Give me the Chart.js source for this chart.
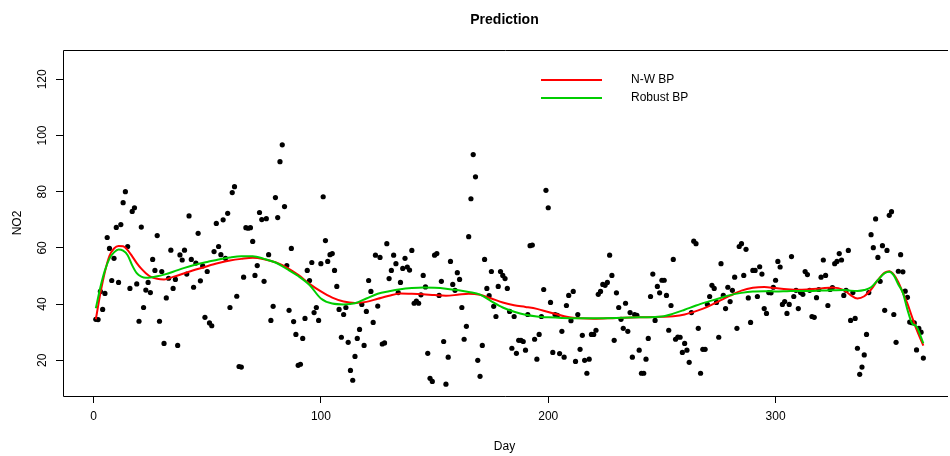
<!DOCTYPE html>
<html>
<head>
<meta charset="utf-8">
<title>Prediction</title>
<script src="https://cdn.jsdelivr.net/npm/chart.js@4.4.1/dist/chart.umd.min.js"></script>
<style>
  html, body { margin: 0; padding: 0; background: #fff; overflow: hidden; }
  #wrap { position: relative; width: 950px; height: 456px; }
</style>
</head>
<body>
<div id="wrap"><canvas id="chart"></canvas></div>
<script>
// daily NO2 readings, day 1 .. 365
const no2 = [
  34.6, 34.5, 44.5, 38.1, 43.8, 63.7, 59.8, 48.4, 56.3, 67.3,
  47.7, 68.3, 76.1, 80.0, 60.5, 45.6, 73.0, 74.3, 47.2, 33.9,
  67.4, 38.8, 45.0, 47.7, 44.1, 55.9, 52.0, 64.4, 33.9, 51.6,
  26.0, 42.2, 49.2, 59.2, 45.6, 48.8, 25.3, 57.5, 55.7, 59.2,
  50.7, 71.4, 55.9, 46.0, 54.6, 65.2, 48.3, 53.6, 35.3, 51.6,
  33.3, 32.3, 58.7, 68.7, 60.5, 57.6, 70.0, 56.3, 72.3, 38.8,
  79.7, 81.8, 42.8, 17.8, 17.6, 49.6, 67.2, 67.0, 67.2, 62.3,
  50.2, 53.7, 72.6, 70.1, 48.1, 70.4, 57.6, 34.2, 39.2, 77.9,
  70.8, 90.7, 96.7, 74.7, 53.7, 37.8, 59.8, 33.8, 29.2, 18.2,
  18.6, 27.8, 34.9, 52.0, 48.4, 54.8, 37.0, 38.8, 34.2, 54.4,
  78.2, 62.6, 55.2, 57.6, 58.0, 52.0, 46.3, 38.1, 28.2, 36.3,
  38.8, 26.4, 16.4, 12.9, 21.4, 27.8, 31.0, 39.9, 25.3, 37.4,
  48.4, 44.5, 33.5, 57.4, 39.3, 56.6, 25.8, 26.2, 61.5, 49.1,
  52.0, 57.4, 54.4, 44.1, 47.7, 52.7, 56.3, 53.2, 52.1, 59.1,
  40.3, 41.1, 40.3, 43.3, 50.2, 46.1, 22.5, 13.6, 12.5, 57.4,
  58.0, 43.1, 48.1, 26.7, 11.5, 21.1, 55.2, 47.0, 44.9, 51.2,
  48.8, 38.8, 27.5, 32.1, 64.0, 77.5, 93.2, 85.3, 20.0, 14.3,
  25.3, 55.9, 45.6, 43.0, 51.6, 39.2, 35.6, 46.3, 51.6, 50.2,
  49.1, 45.6, 37.4, 24.3, 35.6, 22.5, 27.1, 27.1, 26.7, 23.6,
  36.3, 60.8, 61.0, 27.5, 20.4, 29.2, 35.6, 45.2, 80.5, 74.3,
  40.6, 22.8, 36.3, 36.0, 22.4, 30.3, 21.1, 39.5, 43.1, 34.1,
  44.5, 19.6, 36.3, 23.9, 28.9, 20.0, 15.4, 20.4, 29.2, 29.2,
  30.7, 43.5, 44.5, 47.0, 46.7, 47.7, 57.4, 50.2, 27.1, 44.0,
  38.8, 34.6, 31.4, 40.3, 30.3, 37.0, 21.1, 36.3, 36.0, 23.6,
  15.4, 15.4, 20.4, 27.8, 42.7, 50.7, 34.2, 46.3, 44.0, 48.5,
  48.5, 43.1, 30.7, 39.5, 55.9, 27.5, 28.3, 28.2, 22.8, 26.0,
  23.6, 19.3, 37.0, 62.4, 61.5, 31.4, 15.4, 23.9, 23.9, 39.9,
  42.7, 46.7, 45.6, 40.6, 28.2, 54.4, 43.1, 38.4, 46.0, 40.9,
  44.9, 49.6, 31.4, 60.5, 61.5, 50.2, 59.5, 42.2, 33.5, 52.0,
  52.0, 42.7, 53.3, 50.7, 38.4, 36.7, 44.1, 44.0, 46.0, 48.5,
  55.2, 53.2, 39.9, 40.9, 36.7, 39.9, 56.9, 42.7, 44.9, 38.4,
  44.1, 43.5, 51.6, 50.5, 44.9, 35.6, 35.3, 42.3, 45.2, 49.6,
  55.7, 50.2, 39.5, 45.2, 45.9, 54.4, 55.2, 58.0, 55.7, 43.1,
  44.9, 59.1, 34.2, 44.1, 34.9, 24.3, 15.0, 17.6, 21.9, 29.2,
  44.1, 64.7, 60.1, 70.3, 56.6, 48.1, 60.8, 37.8, 59.1, 71.6,
  72.9, 36.3, 26.4, 51.7, 57.6, 51.5, 44.6, 42.4, 33.6, 33.4,
  33.3, 23.7, 31.4, 30.0, 20.8
];

// days at which the two smoothed fits were read
const curveDays = [
  1, 3, 5, 7, 9, 11, 13, 15, 17, 19,
  21, 23, 25, 28, 31, 35, 40, 45, 50, 55,
  60, 65, 70, 75, 80, 85, 90, 95, 100, 105,
  110, 115, 120, 125, 130, 135, 140, 145, 150, 155,
  160, 165, 170, 175, 180, 185, 190, 195, 200, 210,
  220, 230, 240, 250, 255, 260, 265, 270, 275, 280,
  285, 290, 295, 300, 305, 310, 315, 320, 325, 330,
  333, 336, 339, 342, 345, 348, 350, 352, 354, 356,
  358, 360, 362, 365
];

const nwBP = [
  34.6, 43.8, 51.5, 57.2, 59.8, 60.7, 60.6, 59.2, 57.0, 54.6,
  52.6, 51.0, 49.8, 49.0, 48.8, 49.7, 51.0, 52.3, 53.5, 54.6,
  55.5, 56.1, 56.5, 56.0, 54.9, 53.0, 50.4, 47.2, 44.5, 42.3,
  40.9, 40.4, 40.8, 41.9, 43.0, 43.8, 43.7, 43.5, 43.2, 43.0,
  43.3, 43.7, 43.3, 42.0, 40.6, 39.6, 39.0, 38.3, 37.2, 35.2,
  34.8, 35.1, 35.3, 35.5, 35.7, 36.3, 37.5, 39.0, 41.0, 43.0,
  44.8, 45.8, 46.1, 45.7, 45.3, 45.1, 45.3, 45.6, 45.9, 45.0,
  43.2, 42.0, 42.8, 45.2, 48.6, 51.2, 51.7, 50.5, 47.8, 44.0,
  40.2, 35.5, 31.0, 25.2
];

const robustBP = [
  38.5, 46.0, 52.0, 56.2, 58.4, 59.4, 59.0, 57.4, 53.8, 51.0,
  49.8, 49.4, 49.5, 49.9, 50.5, 51.5, 52.9, 54.1, 55.0, 55.9,
  56.6, 57.0, 57.0, 56.1, 54.8, 52.5, 50.0, 46.8, 42.0, 40.2,
  39.9, 40.3, 42.0, 43.7, 44.6, 45.3, 45.7, 45.9, 45.8, 45.5,
  45.0, 44.3, 43.4, 41.0, 38.8, 37.3, 36.2, 35.6, 35.3, 35.0,
  35.0, 35.1, 35.3, 35.6, 36.6, 38.0, 39.5, 40.8, 42.0, 43.2,
  44.0, 44.5, 44.6, 44.5, 44.6, 44.7, 44.7, 44.8, 44.9, 45.0,
  44.8, 44.7, 45.0, 46.0, 48.6, 51.0, 51.5, 50.2, 47.0, 44.0,
  38.0, 33.2, 32.0, 26.0
];

const xTicks = [0, 100, 200, 300];
const yTicks = [20, 40, 60, 80, 100, 120];
const seriesNames = ['N-W BP', 'Robust BP'];

const FONT = '"Liberation Sans", Arial, Helvetica, sans-serif';
Chart.defaults.font.family = FONT;
Chart.defaults.font.size = 12;
Chart.defaults.color = '#000';

// box, rotated y labels, title and legend in the R look
const decorations = {
  id: 'decorations',
  afterDraw(chart) {
    const { ctx, chartArea: a, scales } = chart;
    ctx.save();
    ctx.strokeStyle = '#000';
    ctx.lineWidth = 1;
    ctx.beginPath();
    ctx.moveTo(a.right + 2, a.top + 0.5);
    ctx.lineTo(a.left + 0.5, a.top + 0.5);
    ctx.lineTo(a.left + 0.5, a.bottom + 0.5);
    ctx.lineTo(a.right + 2, a.bottom + 0.5);
    ctx.stroke();

    ctx.fillStyle = '#000';
    ctx.font = '12px ' + FONT;
    ctx.textAlign = 'center';
    ctx.textBaseline = 'middle';
    scales.y.ticks.forEach(t => {
      const y = scales.y.getPixelForValue(t.value);
      ctx.save();
      ctx.translate(43, y);
      ctx.rotate(-Math.PI / 2);
      ctx.fillText(String(t.value), 0, 0);
      ctx.restore();
    });

    ctx.font = 'bold 14px ' + FONT;
    ctx.fillText('Prediction', (a.left + a.right) / 2, 20);

    // legend (no frame, like bty = "n")
    ctx.font = '12px ' + FONT;
    ctx.textAlign = 'left';
    ctx.lineWidth = 2;
    chart.data.datasets.slice(1).forEach((ds, i) => {
      const y = 80 + i * 18;
      ctx.strokeStyle = ds.borderColor;
      ctx.beginPath();
      ctx.moveTo(541, y);
      ctx.lineTo(602, y);
      ctx.stroke();
      ctx.fillText(ds.label, 631, y);
    });
    ctx.restore();
  }
};

new Chart(document.getElementById('chart'), {
  type: 'scatter',
  data: {
    datasets: [
      {
        label: 'NO2',
        data: no2.map((v, i) => ({ x: i + 1, y: v })),
        backgroundColor: '#000',
        borderWidth: 0,
        pointRadius: 2.6,
        order: 3
      },
      {
        label: seriesNames[0],
        data: curveDays.map((d, i) => ({ x: d, y: nwBP[i] })),
        showLine: true,
        borderColor: '#ff0000',
        borderWidth: 2,
        pointRadius: 0,
        cubicInterpolationMode: 'monotone',
        order: 2
      },
      {
        label: seriesNames[1],
        data: curveDays.map((d, i) => ({ x: d, y: robustBP[i] })),
        showLine: true,
        borderColor: '#00cd00',
        borderWidth: 2,
        pointRadius: 0,
        cubicInterpolationMode: 'monotone',
        order: 1
      }
    ]
  },
  options: {
    responsive: true,
    maintainAspectRatio: false,
    animation: false,
    events: [],
    layout: { padding: { top: 50, left: 0, right: 0, bottom: 0 } },
    plugins: {
      legend: { display: false },
      tooltip: { enabled: false }
    },
    scales: {
      x: {
        type: 'linear',
        min: -13.44,
        max: 374.96,
        afterBuildTicks: scale => { scale.ticks = xTicks.map(v => ({ value: v })); },
        afterFit: scale => { scale.height = 60; },
        grid: { drawOnChartArea: false, drawTicks: true, tickLength: 7, color: '#000' },
        border: { display: false },
        ticks: { padding: 6, maxRotation: 0, autoSkip: false, font: { size: 12 } },
        title: { display: true, text: 'Day', font: { size: 12 }, padding: { top: 0, bottom: 2 } }
      },
      y: {
        type: 'linear',
        min: 7.3,
        max: 130.43,
        afterBuildTicks: scale => { scale.ticks = yTicks.map(v => ({ value: v })); },
        afterFit: scale => { scale.width = 63; },
        grid: { drawOnChartArea: false, drawTicks: true, tickLength: 7, color: '#000' },
        border: { display: false },
        ticks: { display: false },
        title: { display: true, text: 'NO2', font: { size: 12 }, padding: { top: 10, bottom: 0 } }
      }
    }
  },
  plugins: [decorations]
});
</script>
</body>
</html>
